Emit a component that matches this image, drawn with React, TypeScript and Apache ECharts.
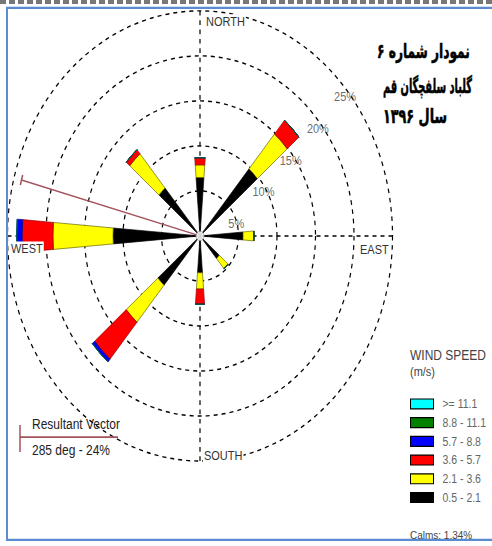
import React, { useEffect, useRef } from 'react';
import * as echarts from 'echarts';

// ---- data ----
const directions = ['N', 'NE', 'E', 'SE', 'S', 'SW', 'W', 'NW'];
const speedClasses = ['0.5 - 2.1', '2.1 - 3.6', '3.6 - 5.7', '5.7 - 8.8', '8.8 - 11.1', '>= 11.1'];
const speedColors = ['#000000', '#ffff00', '#ff0000', '#0000ff', '#008000', '#00ffff'];
const speedBorders = ['#000000', '#5a5a00', '#8b0000', '#000080', '#004000', '#006060'];
const class1 = [6.5, 9.8, 5.6, 3.3, 4.1, 7.2, 11.3, 7.0];
const class2 = [1.4, 5.1, 1.4, 1.5, 1.8, 5.4, 7.8, 5.0];
const class3 = [0.8, 2.0, 0, 0, 1.7, 5.4, 4.0, 0.6];
const class4 = [0, 0, 0, 0, 0, 0.4, 0.7, 0];
const class5 = [0, 0, 0, 0, 0, 0, 0, 0];
const class6 = [0, 0, 0, 0, 0, 0, 0, 0];
const ringTicks = [5, 10, 15, 20, 25];
const compassLabels = ['NORTH', 'EAST', 'SOUTH', 'WEST'];
const resultantDeg = 285;
const resultantPct = 24;
const calmsPct = 1.34;
const titleLines = ['نمودار شماره ۶', 'گلباد سلفچگان قم', 'سال ۱۳۹۶'];
const legendTitle = ['WIND SPEED', '(m/s)'];

const W = 492;
const H = 467;
const SY = 546 / H;

function measure(text: string, font: string): number {
  const c = document.createElement('canvas');
  const ctx = c.getContext('2d');
  if (!ctx) return 100;
  ctx.font = font;
  return ctx.measureText(text).width || 100;
}

export default function App() {
  const ref = useRef<HTMLDivElement>(null);
  useEffect(() => {
    if (!ref.current) return;
    const chart = echarts.init(ref.current, null, { renderer: 'svg', width: W, height: H });
    const classes = [class1, class2, class3, class4, class5, class6];
    const cx = 200;
    const cy = 201.8;
    const R = 192.5;
    const font = 'Liberation Sans, Arial, sans-serif';

    const barSeries = classes.map((d, i) => ({
      type: 'bar',
      name: speedClasses[i],
      coordinateSystem: 'polar',
      polarIndex: 0,
      stack: 'rose',
      barWidth: '20%',
      data: d,
      itemStyle: { color: speedColors[i], borderColor: speedBorders[i], borderWidth: 0.6 },
      z: 3,
    }));

    const compassPos = [
      { x: 205, y: 18.6 },
      { x: 359, y: 213.9 },
      { x: 203, y: 390 },
      { x: 10, y: 213 },
    ];

    const titleSize = 17;
    const titleFont = 'bold ' + titleSize + 'px "DejaVu Sans"';
    const titleX = [377, 383, 383];
    const titleW = [93, 89, 64];
    const titleY = [44, 73.6, 99];

    const option: any = {
      animation: false,
      backgroundColor: '#ffffff',
      polar: [
        { center: [cx, cy], radius: R },
        { center: [cx, cy], radius: R },
      ],
      angleAxis: [
        {
          polarIndex: 0,
          type: 'category',
          data: directions,
          startAngle: 112.5,
          clockwise: true,
          axisLine: { show: false },
          axisTick: { show: false },
          axisLabel: { show: false },
          splitLine: { show: false },
        },
        {
          polarIndex: 1,
          type: 'value',
          min: 0,
          max: 360,
          interval: 90,
          startAngle: 90,
          clockwise: true,
          axisLine: { show: false },
          axisTick: { show: false },
          axisLabel: { show: false },
          splitLine: { show: true, lineStyle: { color: '#000', width: 1.2, type: [4, 4] } },
        },
      ],
      radiusAxis: [
        {
          polarIndex: 0,
          min: 0,
          max: 25,
          interval: 5,
          axisLine: { show: false },
          axisTick: { show: false },
          axisLabel: { show: false },
          splitLine: { show: true, lineStyle: { color: '#000', width: 1.2, type: [4, 4] } },
        },
        {
          polarIndex: 1,
          min: 0,
          max: 25,
          interval: 5,
          axisLine: { show: false },
          axisTick: { show: false },
          axisLabel: { show: false },
          splitLine: { show: false },
        },
      ],
      legend: {
        orient: 'vertical',
        left: 410,
        top: 340,
        padding: 0,
        itemWidth: 23,
        itemHeight: 8.5,
        itemGap: 5,
        icon: 'rect',
        selectedMode: false,
        data: speedClasses.slice().reverse(),
        itemStyle: { borderColor: '#000', borderWidth: 1 },
        textStyle: { fontSize: 10.5, color: '#666', fontFamily: font, lineHeight: 9, padding: [0, 0, 0, 4] },
      },
      series: [
        ...barSeries,
        {
          type: 'scatter',
          coordinateSystem: 'polar',
          polarIndex: 1,
          data: ringTicks.map((r) => [r, 45]),
          symbolSize: 1,
          itemStyle: { color: 'transparent' },
          label: {
            show: true,
            position: 'inside',
            offset: [9, 17],
            formatter: (p: any) => p.value[0] + '%',
            fontSize: 11,
            color: '#444',
            fontFamily: font,
          },
          z: 4,
        },
        {
          type: 'line',
          coordinateSystem: 'polar',
          polarIndex: 1,
          data: [
            { value: [0, resultantDeg], symbol: 'none' },
            { value: [resultantPct, resultantDeg], symbol: 'rect', symbolSize: [1.5, 9], symbolRotate: -15 },
          ],
          lineStyle: { color: '#a4525c', width: 1.2 },
          itemStyle: { color: '#a4525c' },
          z: 5,
        },
        {
          type: 'scatter',
          coordinateSystem: 'polar',
          polarIndex: 1,
          data: [[0, 0]],
          symbolSize: 8,
          itemStyle: { color: '#fff', borderColor: '#888', borderWidth: 0.8 },
          z: 6,
        },
      ],
      graphic: [
        {
          type: 'line',
          shape: { x1: 0, y1: 1.8, x2: W, y2: 1.8 },
          style: { stroke: '#777', lineWidth: 3.4, lineDash: [6, 3] },
          z: 1,
        },
        {
          type: 'rect',
          shape: { x: 7, y: 6.8, width: 520, height: 455 },
          style: { fill: 'none', stroke: '#5b8bd0', lineWidth: 2 },
          z: 1,
        },
        ...compassLabels.map((t, i) => ({
          type: 'text',
          x: compassPos[i].x,
          y: compassPos[i].y,
          z: 50,
          style: {
            text: t,
            fontSize: 11,
            fontFamily: font,
            fill: '#333',
            verticalAlign: 'middle',
            align: 'left',
            backgroundColor: '#fff',
            padding: [1, 1],
          },
        })),
        ...titleLines.map((t, i) => ({
          type: 'text',
          x: titleX[i],
          y: titleY[i],
          scaleX: Math.min(1, titleW[i] / measure(t, titleFont)),
          z: 50,
          style: {
            text: t,
            fontSize: titleSize,
            fontWeight: 'bold',
            fontFamily: 'DejaVu Sans',
            fill: '#000',
            stroke: '#000',
            lineWidth: 0.5,
            verticalAlign: 'middle',
            align: 'left',
          },
        })),
        {
          type: 'text',
          x: 410,
          y: 303.7,
          z: 50,
          style: { text: legendTitle[0], fontSize: 12, fontFamily: font, fill: '#444', verticalAlign: 'middle' },
        },
        {
          type: 'text',
          x: 410,
          y: 318,
          z: 50,
          style: { text: legendTitle[1], fontSize: 11, fontFamily: font, fill: '#444', verticalAlign: 'middle' },
        },
        {
          type: 'text',
          x: 410,
          y: 457.7,
          z: 50,
          style: { text: 'Calms: ' + calmsPct.toFixed(2) + '%', fontSize: 10, fontFamily: font, fill: '#444', verticalAlign: 'middle' },
        },
        {
          type: 'line',
          shape: { x1: 20, y1: 363.6, x2: 20, y2: 386.7 },
          style: { stroke: '#a4525c', lineWidth: 1.5 },
          z: 50,
        },
        {
          type: 'line',
          shape: { x1: 20, y1: 373.8, x2: 118, y2: 373.8 },
          style: { stroke: '#a4525c', lineWidth: 1.5 },
          z: 50,
        },
        {
          type: 'text',
          x: 32,
          y: 362.7,
          z: 50,
          style: { text: 'Resultant Vector', fontSize: 12, fontFamily: font, fill: '#222', verticalAlign: 'middle' },
        },
        {
          type: 'text',
          x: 32,
          y: 385,
          z: 50,
          style: {
            text: resultantDeg + ' deg - ' + resultantPct + '%',
            fontSize: 12,
            fontFamily: font,
            fill: '#222',
            verticalAlign: 'middle',
          },
        },
      ],
    };
    chart.setOption(option);
    return () => chart.dispose();
  }, []);

  return (
    <div style={{ position: 'fixed', left: 0, top: 0, width: W, height: 546, overflow: 'hidden', background: '#fff' }}>
      <div
        ref={ref}
        style={{ width: W, height: H, transform: `scaleY(${SY})`, transformOrigin: '0 0' }}
      />
    </div>
  );
}
